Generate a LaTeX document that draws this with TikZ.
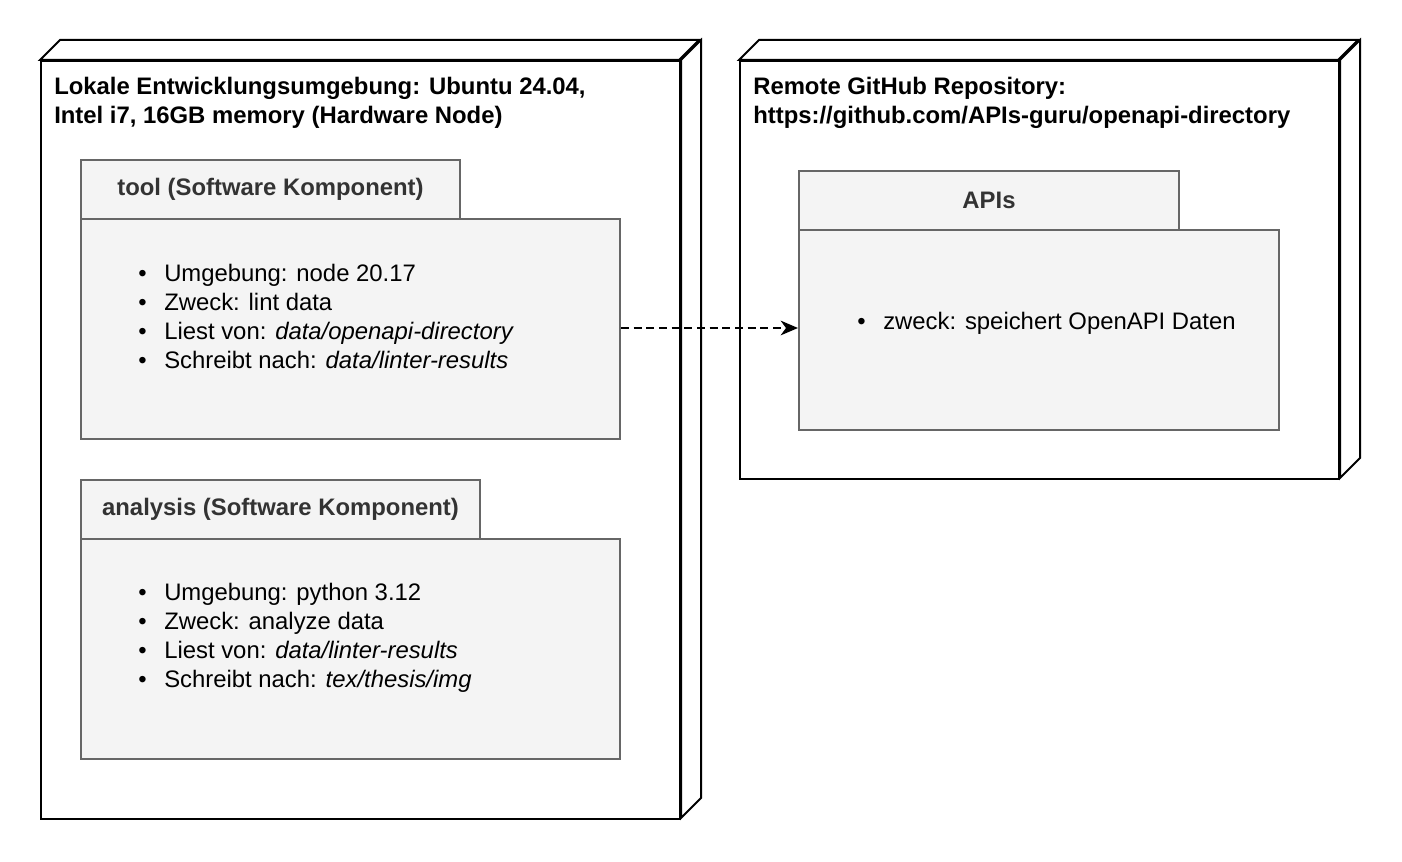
\documentclass[tikz,border=0pt]{standalone}
\usepackage{fontspec}
\setmainfont{Liberation Sans}
\usetikzlibrary{arrows.meta}
\definecolor{pkgfill}{HTML}{F4F4F4}
\definecolor{pkgline}{HTML}{666666}
\definecolor{pkgtext}{HTML}{333333}
\tikzset{
  hwnode/.style={draw=black, line width=1.5pt, fill=white, rectangle, inner sep=0pt, anchor=north west},
  hwedge/.style={draw=black, line width=1.5pt, fill=white, line join=miter},
  pkgtab/.style={draw=pkgline, line width=1.5pt, fill=pkgfill, rectangle, inner sep=0pt, anchor=north west,
    text=pkgtext, font=\fontsize{17.9}{21}\selectfont\bfseries},
  pkgbody/.style={draw=pkgline, line width=1.5pt, fill=pkgfill, rectangle, inner sep=0pt, anchor=north west},
  hwtitle/.style={anchor=west, inner sep=0pt, align=left, font=\fontsize{17.9}{21.75}\selectfont\bfseries},
  bullets/.style={anchor=west, inner sep=0pt, align=left, font=\fontsize{17.9}{21.75}\selectfont},
  depend/.style={draw=black, line width=1.5pt, dash pattern=on 6pt off 3.5pt, -{Stealth[length=13pt,width=11pt,inset=4pt]}}
}
\newcommand{\bul}{\makebox[19.5pt][l]{\textbullet}}
\begin{document}
\begin{tikzpicture}[x=0.75pt,y=-0.75pt]
\useasboundingbox (0,0) rectangle (1402,862);
% left hardware node
\node[hwnode, minimum width=479.25pt, minimum height=568.5pt] (local) at (40,60) {};
\path[hwedge] (local.north west) -- ++(20,-20) -- ++(639,0) -- ++(-20,20) -- cycle;
\path[hwedge] (local.north east) -- ++(20,-20) -- ++(0,758) -- ++(-20,20) -- cycle;
\node[hwtitle] (localtitle) at (54,103) {Lokale Entwicklungsumgebung: Ubuntu 24.04,\\Intel i7, 16GB memory (Hardware Node)};
% right hardware node
\node[hwnode, minimum width=449.25pt, minimum height=313.5pt] (remote) at (739,60) {};
\path[hwedge] (remote.north west) -- ++(20,-20) -- ++(599,0) -- ++(-20,20) -- cycle;
\path[hwedge] (remote.north east) -- ++(20,-20) -- ++(0,418) -- ++(-20,20) -- cycle;
\node[hwtitle] (remotetitle) at (753,103) {Remote GitHub Repository:\\https://github.com/APIs-guru/openapi-directory};
% tool package
\node[pkgbody, minimum width=404.25pt, minimum height=165pt] (toolbody) at (80,218) {};
\node[pkgtab, minimum width=284.25pt, minimum height=44.25pt] (tooltab) at (80,159) {tool (Software Komponent)};
\node[bullets] (tooltext) at (138,316) {\bul Umgebung: node 20.17\\\bul Zweck: lint data\\\bul Liest von: \textit{data/openapi-directory}\\\bul Schreibt nach: \textit{data/linter-results}};
% analysis package
\node[pkgbody, minimum width=404.25pt, minimum height=165pt] (anabody) at (80,538) {};
\node[pkgtab, minimum width=299.25pt, minimum height=44.25pt] (anatab) at (80,479) {analysis (Software Komponent)};
\node[bullets] (anatext) at (138,638) {\bul Umgebung: python 3.12\\\bul Zweck: analyze data\\\bul Liest von: \textit{data/linter-results}\\\bul Schreibt nach: \textit{tex/thesis/img}};
% APIs package
\node[pkgbody, minimum width=360pt, minimum height=150pt] (apibody) at (798,229) {};
\node[pkgtab, minimum width=285pt, minimum height=44.25pt] (apitab) at (798,170) {APIs};
\node[bullets] (apitext) at (857,323) {\bul zweck: speichert OpenAPI Daten};
% dependency
\draw[depend] (toolbody.east |- 0,328) -- (apibody.west |- 0,328);
\end{tikzpicture}
\end{document}
